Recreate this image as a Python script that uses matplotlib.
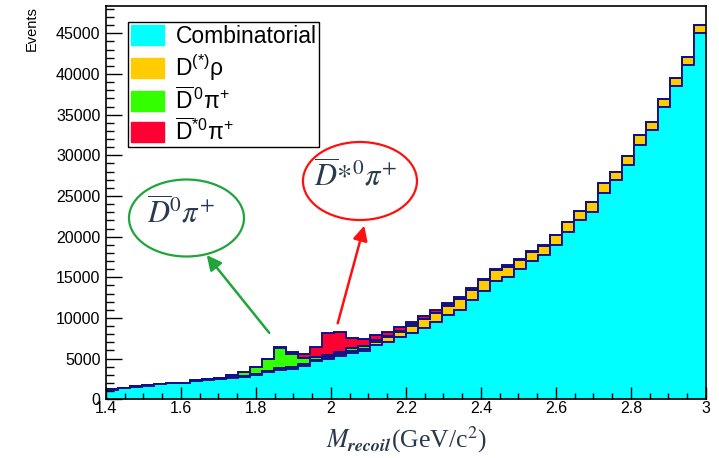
import numpy as np
import matplotlib
matplotlib.use('Agg')
import matplotlib.pyplot as plt
from matplotlib.patches import Patch, Ellipse

plt.rcParams['font.family'] = ['Liberation Sans', 'DejaVu Sans']
plt.rcParams['mathtext.fontset'] = 'custom'
plt.rcParams['mathtext.rm'] = 'Liberation Sans'
plt.rcParams['mathtext.it'] = 'Liberation Sans:italic'
plt.rcParams['mathtext.bf'] = 'Liberation Sans:bold'

# 50 bins of M_recoil from 1.4 to 3.0 GeV/c^2
x_lo, x_hi, n_bins = 1.4, 3.0, 50

combinatorial = [1180, 1380, 1540, 1650, 1850, 1960, 1960, 2220, 2380, 2440,
                 2600, 2760, 2950, 3300, 3650, 3780, 4150, 4700, 5000, 5300,
                 5740, 5940, 6640, 7050, 7660, 8160, 8770, 9510, 10330, 11030,
                 12180, 13320, 14550, 15040, 16000, 16970, 17710, 18940, 20580, 22100,
                 23080, 25320, 26940, 28840, 31320, 33090, 35880, 38500, 41080, 44980]
d_rho = [50, 55, 60, 60, 70, 70, 75, 80, 90, 100,
         110, 120, 130, 140, 150, 150, 130, 120, 200, 250,
         220, 290, 450, 650, 650, 900, 1050, 1100, 1200, 1250,
         1250, 1300, 1300, 1250, 1150, 1150, 1150, 1250, 1220, 1020,
         1180, 1220, 1000, 1110, 1130, 1000, 1000, 1000, 1010, 1090]
d0_pi = [0, 0, 0, 10, 10, 10, 15, 30, 70, 125,
         240, 460, 900, 1520, 2500, 1650, 800, 400, 300, 250,
         330, 330, 250, 120, 100, 150, 80, 60, 60, 50,
         50, 40, 40, 30, 30, 20, 20, 10, 0, 0,
         0, 0, 0, 0, 0, 0, 0, 0, 0, 0]
dstar0_pi = [0, 0, 0, 0, 0, 0, 0, 0, 0, 0,
             0, 0, 20, 40, 150, 290, 500, 1250, 2600, 2450,
             1300, 820, 550, 480, 530, 350, 350, 280, 300, 260,
             250, 180, 180, 160, 120, 100, 60, 50, 40, 30,
             30, 20, 15, 10, 10, 10, 10, 10, 10, 10]

labels = ['Combinatorial', r'D$^{(*)}$ρ', r'$\overline{\mathrm{D}}^{\,0}$π$^{+}$',
          r'$\overline{\mathrm{D}}^{*0}$π$^{+}$']
colors = ['#00ffff', '#ffcc00', '#33ff00', '#ff0033']
line_col = '#10108a'
text_col = '#2a3a4e'

edges = np.linspace(x_lo, x_hi, n_bins + 1)
stack = np.cumsum([combinatorial, d_rho, d0_pi, dstar0_pi], axis=0)

fig = plt.figure(figsize=(7.19, 4.58), dpi=100)
ax = fig.add_axes([0.1474, 0.1282, 0.8345, 0.8594])

base = np.zeros(n_bins)
for top, c in zip(stack, colors):
    ax.stairs(top, edges, baseline=base, fill=True, color=c, lw=0)
    base = top
for top in stack:
    ax.stairs(top, edges, baseline=None, color=line_col, lw=1.4)

ax.set_xlim(x_lo, x_hi)
ax.set_ylim(0, 48400)
ax.set_xticks(np.arange(1.4, 3.01, 0.2))
ax.set_xticklabels(['1.4', '1.6', '1.8', '2', '2.2', '2.4', '2.6', '2.8', '3'])
ax.set_xticks(np.arange(1.4, 3.001, 0.05), minor=True)
ax.set_yticks(np.arange(0, 45001, 5000))
ax.set_yticks(np.arange(0, 48001, 1000), minor=True)
ax.tick_params(which='both', direction='in', labelsize=11.5, width=1)
ax.tick_params(axis='y', which='major', length=11.5, pad=4)
ax.tick_params(axis='y', which='minor', length=5.8)
ax.tick_params(axis='x', which='major', length=8.5, pad=1)
ax.tick_params(axis='x', which='minor', length=4.3)
for s in ax.spines.values():
    s.set_linewidth(1.2)

ax.set_ylabel('Events', loc='top', fontsize=10.5)
ax.yaxis.set_label_coords(-0.112, 1.0)
ax.set_xlabel(r'$M_{\mathbfit{recoil}}$(GeV/c$^{2}$)', fontsize=18.5, family='Liberation Serif',
              math_fontfamily='stix', color=text_col)
ax.xaxis.set_label_coords(0.5, -0.103)
ax.xaxis.label.set_va('center')

handles = [Patch(facecolor=c, edgecolor=c) for c in colors]
leg = ax.legend(handles, labels, loc='upper left', bbox_to_anchor=(0.0367, 0.959),
                borderaxespad=0, fancybox=False, edgecolor='black', framealpha=1,
                fontsize=16.5, handlelength=1.45, handleheight=0.95, labelspacing=0.19,
                borderpad=0.12, handletextpad=0.5)
leg.get_frame().set_linewidth(1.0)

# annotations
ax.add_patch(Ellipse((1.6147, 22290), 0.3067, 9467, fill=False, edgecolor='#1fa53a', lw=1.6))
ax.text(1.60, 22900, r'$\overline{D}^{0}\pi^{+}$', fontsize=22, math_fontfamily='stix',
        color=text_col, ha='center', va='center')
ax.annotate('', xy=(1.664, 17990), xytext=(1.84, 7900),
            arrowprops=dict(arrowstyle='-|>', color='#1fa53a', lw=1.8, mutation_scale=22))

ax.add_patch(Ellipse((2.0773, 26840), 0.304, 9590, fill=False, edgecolor='#ff1010', lw=1.6))
ax.text(2.0667, 27400, r'$\overline{D}{*}^{0}\pi^{+}$', fontsize=22, math_fontfamily='stix',
        color=text_col, ha='center', va='center')
ax.annotate('', xy=(2.0907, 21680), xytext=(2.016, 9010),
            arrowprops=dict(arrowstyle='-|>', color='#ff1010', lw=1.8, mutation_scale=22))

fig.savefig('out.png', dpi=100)
